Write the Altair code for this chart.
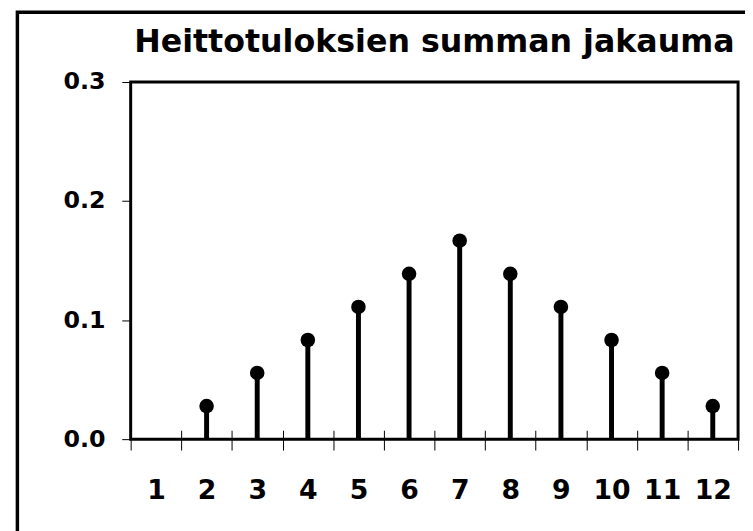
import altair as alt
import pandas as pd

# data
categories = ["1", "2", "3", "4", "5", "6", "7", "8", "9", "10", "11", "12"]
sums = ["2", "3", "4", "5", "6", "7", "8", "9", "10", "11", "12"]
probs = [0.0278, 0.0556, 0.0833, 0.1111, 0.1389, 0.1667, 0.1389, 0.1111, 0.0833, 0.0556, 0.0278]
y_ticks = [0.0, 0.1, 0.2, 0.3]
title_text = "Heittotuloksien summan jakauma"

df = pd.DataFrame({"summa": sums, "p": probs})

FONT = "DejaVu Sans"

xscale = alt.Scale(domain=categories, paddingInner=0, paddingOuter=0)
yscale = alt.Scale(domain=[0, 0.3], nice=False, zero=True)

yaxis = alt.Axis(values=y_ticks, format=".1f", grid=False, domain=False,
                 tickSize=9, tickColor="black", tickWidth=1,
                 labelFont=FONT, labelFontWeight="bold", labelFontSize=24,
                 labelColor="black", labelPadding=17, title=None)

xaxis_main = alt.Axis(orient="bottom", grid=False, domain=False, tickBand="extent",
                      tickSize=11, tickColor="black", tickWidth=1, labelAngle=0,
                      labelFont=FONT, labelFontWeight="bold", labelFontSize=27,
                      labelColor="black", labelPadding=28, title=None)

xaxis_inner = alt.Axis(orient="bottom", grid=False, domain=False, tickBand="extent",
                       tickSize=9, tickColor="black", tickWidth=1, labels=False,
                       offset=-9, title=None)

base = alt.Chart(df)

stems = base.mark_rule(color="black", strokeWidth=5, strokeCap="butt").encode(
    x=alt.X("summa:O", scale=xscale, sort=None, axis=xaxis_main),
    y=alt.Y("p:Q", scale=yscale, axis=yaxis),
    y2=alt.datum(0),
)

dots = base.mark_circle(color="black", size=216, opacity=1).encode(
    x=alt.X("summa:O", scale=xscale, sort=None, axis=xaxis_inner),
    y=alt.Y("p:Q", scale=yscale, axis=yaxis),
)

frame = alt.Chart(pd.DataFrame({"a": [0]})).mark_rect(
    fill=None, stroke="black", strokeWidth=3.5, clip=False
).encode(
    x=alt.value(-114.5), x2=alt.value(640),
    y=alt.value(-70.5), y2=alt.value(470),
)

chart = alt.layer(frame, stems, dots).resolve_axis(x="independent").properties(
    width=614, height=361,
    title=alt.TitleParams(title_text, font=FONT, fontWeight="bold", fontSize=32,
                          color="black", anchor="middle", offset=-49, frame="group"),
    autosize=alt.AutoSizeParams(type="none"),
    padding={"left": 124, "top": 72, "right": 7, "bottom": 90},
    background="white",
).configure_view(stroke="black", strokeWidth=3)

chart.save("out.html", embed_options={"renderer": "svg", "actions": False})
